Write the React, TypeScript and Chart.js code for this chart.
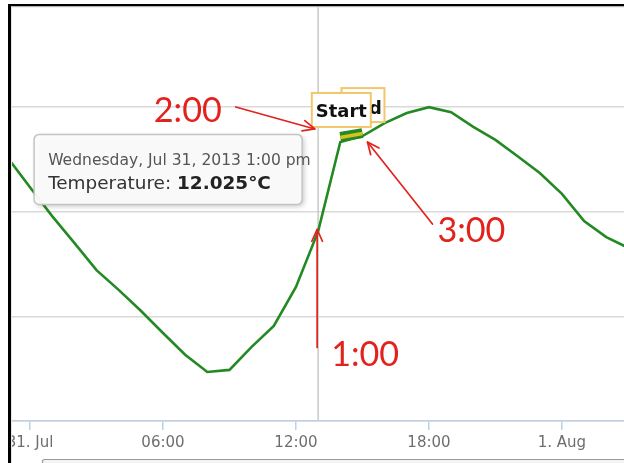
import React, { useEffect, useRef } from "react";
import { Chart, registerables } from "chart.js";
Chart.register(...registerables);

// ---- data ----
const hours = [-1, 0, 1, 2, 3, 4, 5, 6, 7, 8, 9, 10, 11, 12, 13, 14, 15, 16, 17, 18, 19, 20, 21, 22, 23, 24, 25, 26, 27];
const temperatures = [13.78, 13.08, 12.39, 11.75, 11.1, 10.63, 10.13, 9.6, 9.08, 8.67, 8.72, 9.27, 9.77, 10.7, 12.025, 14.16, 14.3, 14.61, 14.85, 14.99, 14.87, 14.52, 14.21, 13.82, 13.42, 12.92, 12.27, 11.89, 11.63];
const tickHours = [0, 6, 12, 18, 24];
const tickLabels = ["31. Jul", "06:00", "12:00", "18:00", "1. Aug"];
const yMin = 7.5;
const yMax = 17.5;
const yStep = 2.5;
const xMin = -0.857;
const xMax = 26.8;
const seriesName = "Temperature";
const unit = "°C";
const hoverHour = 13;
const tooltipDate = "Wednesday, Jul 31, 2013 1:00 pm";
const flagHours = [14, 15];
const flagTitles = ["Start", "End"];
const calloutLabels = ["2:00", "1:00", "3:00"];

const GREEN = "#238a23";
const RED = "#e2231d";
const SANS = '"DejaVu Sans", sans-serif';
const CALLOUT_FONT = 'Lato, "Open Sans", sans-serif';

function fitSize(ctx: CanvasRenderingContext2D, text: string, weight: string, family: string, target: number) {
  ctx.font = `${weight} 100px ${family}`;
  return (100 * target) / ctx.measureText(text).width;
}

function arrow(ctx: CanvasRenderingContext2D, x1: number, y1: number, x2: number, y2: number) {
  ctx.save();
  ctx.strokeStyle = RED;
  ctx.lineWidth = 1.7;
  ctx.lineCap = "round";
  ctx.lineJoin = "round";
  ctx.beginPath();
  ctx.moveTo(x1, y1);
  ctx.lineTo(x2, y2);
  ctx.stroke();
  const a = Math.atan2(y2 - y1, x2 - x1);
  const L = 13;
  const s = 0.42;
  ctx.beginPath();
  ctx.moveTo(x2 - L * Math.cos(a - s), y2 - L * Math.sin(a - s));
  ctx.lineTo(x2, y2);
  ctx.lineTo(x2 - L * Math.cos(a + s), y2 - L * Math.sin(a + s));
  ctx.stroke();
  ctx.restore();
}

function roundRect(ctx: CanvasRenderingContext2D, x: number, y: number, w: number, h: number, r: number) {
  ctx.beginPath();
  ctx.moveTo(x + r, y);
  ctx.lineTo(x + w - r, y);
  ctx.arcTo(x + w, y, x + w, y + r, r);
  ctx.lineTo(x + w, y + h - r);
  ctx.arcTo(x + w, y + h, x + w - r, y + h, r);
  ctx.lineTo(x + r, y + h);
  ctx.arcTo(x, y + h, x, y + h - r, r);
  ctx.lineTo(x, y + r);
  ctx.arcTo(x, y, x + r, y, r);
  ctx.closePath();
}

const overlayPlugin = {
  id: "overlay",
  beforeDatasetsDraw(chart: any) {
    const { ctx, chartArea } = chart;
    const x = chart.scales.x.getPixelForValue(hoverHour);
    ctx.save();
    ctx.strokeStyle = "#c9c9c9";
    ctx.lineWidth = 1.5;
    ctx.beginPath();
    ctx.moveTo(x, 0);
    ctx.lineTo(x, chartArea.bottom);
    ctx.stroke();
    ctx.restore();
  },
  afterDraw(chart: any) {
    const { ctx } = chart;
    const xs = chart.scales.x;
    const ys = chart.scales.y;
    const px = (h: number) => xs.getPixelForValue(h);
    const py = (h: number) => ys.getPixelForValue(temperatures[hours.indexOf(h)]);

    // highlighted segment between flags
    const bx1 = px(flagHours[0]);
    const by1 = py(flagHours[0]) - 5;
    const bx2 = px(flagHours[1]);
    const by2 = py(flagHours[1]) - 3;
    ctx.save();
    ctx.lineCap = "butt";
    ctx.strokeStyle = GREEN;
    ctx.lineWidth = 10;
    ctx.beginPath();
    ctx.moveTo(bx1, by1);
    ctx.lineTo(bx2, by2);
    ctx.stroke();
    ctx.strokeStyle = "#d9c21f";
    ctx.lineWidth = 3.5;
    ctx.beginPath();
    ctx.moveTo(bx1, by1 + 0.5);
    ctx.lineTo(bx2, by2 + 0.5);
    ctx.stroke();
    ctx.restore();

    // flags (End behind Start)
    const flagSize = fitSize(ctx, flagTitles[0], "bold", SANS, 51);
    const drawFlag = (title: string, cx: number, bottom: number, w: number, baseOff: number) => {
      ctx.save();
      ctx.fillStyle = "#ffffff";
      ctx.strokeStyle = "#f2c66a";
      ctx.lineWidth = 2;
      ctx.fillRect(cx - w / 2, bottom - 34, w, 34);
      ctx.strokeRect(cx - w / 2, bottom - 34, w, 34);
      ctx.fillStyle = "#111";
      ctx.font = `bold ${flagSize}px ${SANS}`;
      ctx.textAlign = "center";
      ctx.textBaseline = "alphabetic";
      ctx.fillText(title, cx, bottom - baseOff);
      ctx.restore();
    };
    drawFlag(flagTitles[1], px(flagHours[1]) + 0.5, py(flagHours[1]) - 14, 43, 8);
    drawFlag(flagTitles[0], px(flagHours[0]) + 1, py(flagHours[0]) - 15, 59, 10);

    // tooltip
    const hx = px(hoverHour);
    const hy = py(hoverHour);
    const tRight = hx - 16;
    const tTop = hy - 97;
    const tLeft = tRight - 268;
    ctx.save();
    ctx.shadowColor = "rgba(0,0,0,0.22)";
    ctx.shadowBlur = 5;
    ctx.shadowOffsetX = 2;
    ctx.shadowOffsetY = 2;
    roundRect(ctx, tLeft, tTop, 268, 70, 5);
    ctx.fillStyle = "rgba(251,251,251,0.96)";
    ctx.fill();
    ctx.restore();
    ctx.save();
    roundRect(ctx, tLeft, tTop, 268, 70, 5);
    ctx.strokeStyle = "#c4c4c4";
    ctx.lineWidth = 1.5;
    ctx.stroke();
    const s1 = fitSize(ctx, tooltipDate, "normal", SANS, 263);
    ctx.font = `normal ${s1}px ${SANS}`;
    ctx.fillStyle = "#555";
    ctx.textBaseline = "alphabetic";
    ctx.fillText(tooltipDate, tLeft + 14, tTop + 31);
    const label = `${seriesName}: `;
    const value = `${temperatures[hours.indexOf(hoverHour)].toFixed(3)}${unit}`;
    ctx.font = `normal 100px ${SANS}`;
    const w1 = ctx.measureText(label).width;
    ctx.font = `bold 100px ${SANS}`;
    const w2 = ctx.measureText(value).width;
    const s2 = (100 * 223) / (w1 + w2);
    ctx.font = `normal ${s2}px ${SANS}`;
    ctx.fillStyle = "#333";
    ctx.fillText(label, tLeft + 14, tTop + 55);
    const lw = ctx.measureText(label).width;
    ctx.font = `bold ${s2}px ${SANS}`;
    ctx.fillStyle = "#222";
    ctx.fillText(value, tLeft + 14 + lw, tTop + 55);
    ctx.restore();

    // callouts
    const cs = fitSize(ctx, calloutLabels[0], "normal", CALLOUT_FONT, 68);
    ctx.save();
    ctx.fillStyle = RED;
    ctx.font = `normal ${cs}px ${CALLOUT_FONT}`;
    ctx.textBaseline = "alphabetic";
    const startLeft = px(flagHours[0]) + 1 - 59 / 2;
    const startBottom = py(flagHours[0]) - 15;
    ctx.fillText(calloutLabels[0], startLeft - 158, startBottom - 5);
    arrow(ctx, startLeft - 76, startBottom - 20, startLeft + 3, startBottom + 2);
    ctx.fillText(calloutLabels[1], hx + 13, hy + 135);
    arrow(ctx, hx - 1, hy + 116, hx - 1, hy - 2);
    const ex = px(flagHours[1]);
    const ey = py(flagHours[1]);
    ctx.fillText(calloutLabels[2], ex + 75, ey + 106);
    arrow(ctx, ex + 70, ey + 88, ex + 5, ey + 6);
    ctx.restore();

    // screenshot frame and navigator edge
    ctx.save();
    ctx.fillStyle = "#ffffff";
    ctx.fillRect(0, 0, chart.width, 4);
    ctx.fillRect(0, 0, 8, chart.height);
    ctx.fillStyle = "#000";
    ctx.fillRect(8, 4, 3, chart.height - 4);
    ctx.fillRect(8, 4, chart.width - 8, 2.5);
    ctx.fillStyle = "#e6e6e6";
    ctx.fillRect(11, 6.5, chart.width - 11, 1);
    ctx.fillRect(11, 6.5, 1, chart.height - 6.5);
    roundRect(ctx, 42.5, 459.5, 640, 20, 2);
    ctx.fillStyle = "#f3f3f3";
    ctx.fill();
    ctx.strokeStyle = "#9a9a9a";
    ctx.lineWidth = 1.2;
    ctx.stroke();
    ctx.restore();
  },
};

export default function App() {
  const ref = useRef<HTMLCanvasElement | null>(null);
  useEffect(() => {
    if (!ref.current) return;
    const chart = new Chart(ref.current, {
      type: "line",
      data: {
        datasets: [
          {
            label: seriesName,
            data: hours.map((h, i) => ({ x: h, y: temperatures[i] })),
            borderColor: GREEN,
            borderWidth: 2.6,
            pointRadius: 0,
            tension: 0,
            fill: false,
          },
        ],
      },
      options: {
        responsive: false,
        animation: false,
        devicePixelRatio: 1,
        layout: { padding: { left: 11, right: 0, top: 2, bottom: 0 } },
        plugins: { legend: { display: false }, tooltip: { enabled: false } },
        scales: {
          x: {
            type: "linear",
            min: xMin,
            max: xMax,
            afterBuildTicks: (scale: any) => {
              scale.ticks = tickHours.map((v) => ({ value: v }));
            },
            afterFit: (scale: any) => {
              scale.height = 42;
            },
            ticks: {
              autoSkip: false,
              maxRotation: 0,
              color: "#6e6e6e",
              padding: 4,
              font: { family: SANS, size: 15 },
              callback: (v: any) => {
                const i = tickHours.indexOf(Number(v));
                return i >= 0 ? tickLabels[i] : "";
              },
            },
            grid: { drawOnChartArea: false, drawTicks: true, tickLength: 9, color: "#c0d0e0", lineWidth: 1.5 },
            border: { color: "#c0d0e0", width: 1.5 },
          },
          y: {
            min: yMin,
            max: yMax,
            afterFit: (scale: any) => {
              scale.width = 0;
            },
            ticks: { stepSize: yStep, display: false },
            grid: { color: "#d9d9d9", lineWidth: 1.5, drawTicks: false },
            border: { display: false },
          },
        },
      },
      plugins: [overlayPlugin],
    });
    return () => chart.destroy();
  }, []);
  return (
    <div style={{ position: "fixed", left: 0, top: 0, width: 624, height: 463, background: "#fff" }}>
      <canvas ref={ref} width={624} height={463} style={{ display: "block" }} />
    </div>
  );
}
